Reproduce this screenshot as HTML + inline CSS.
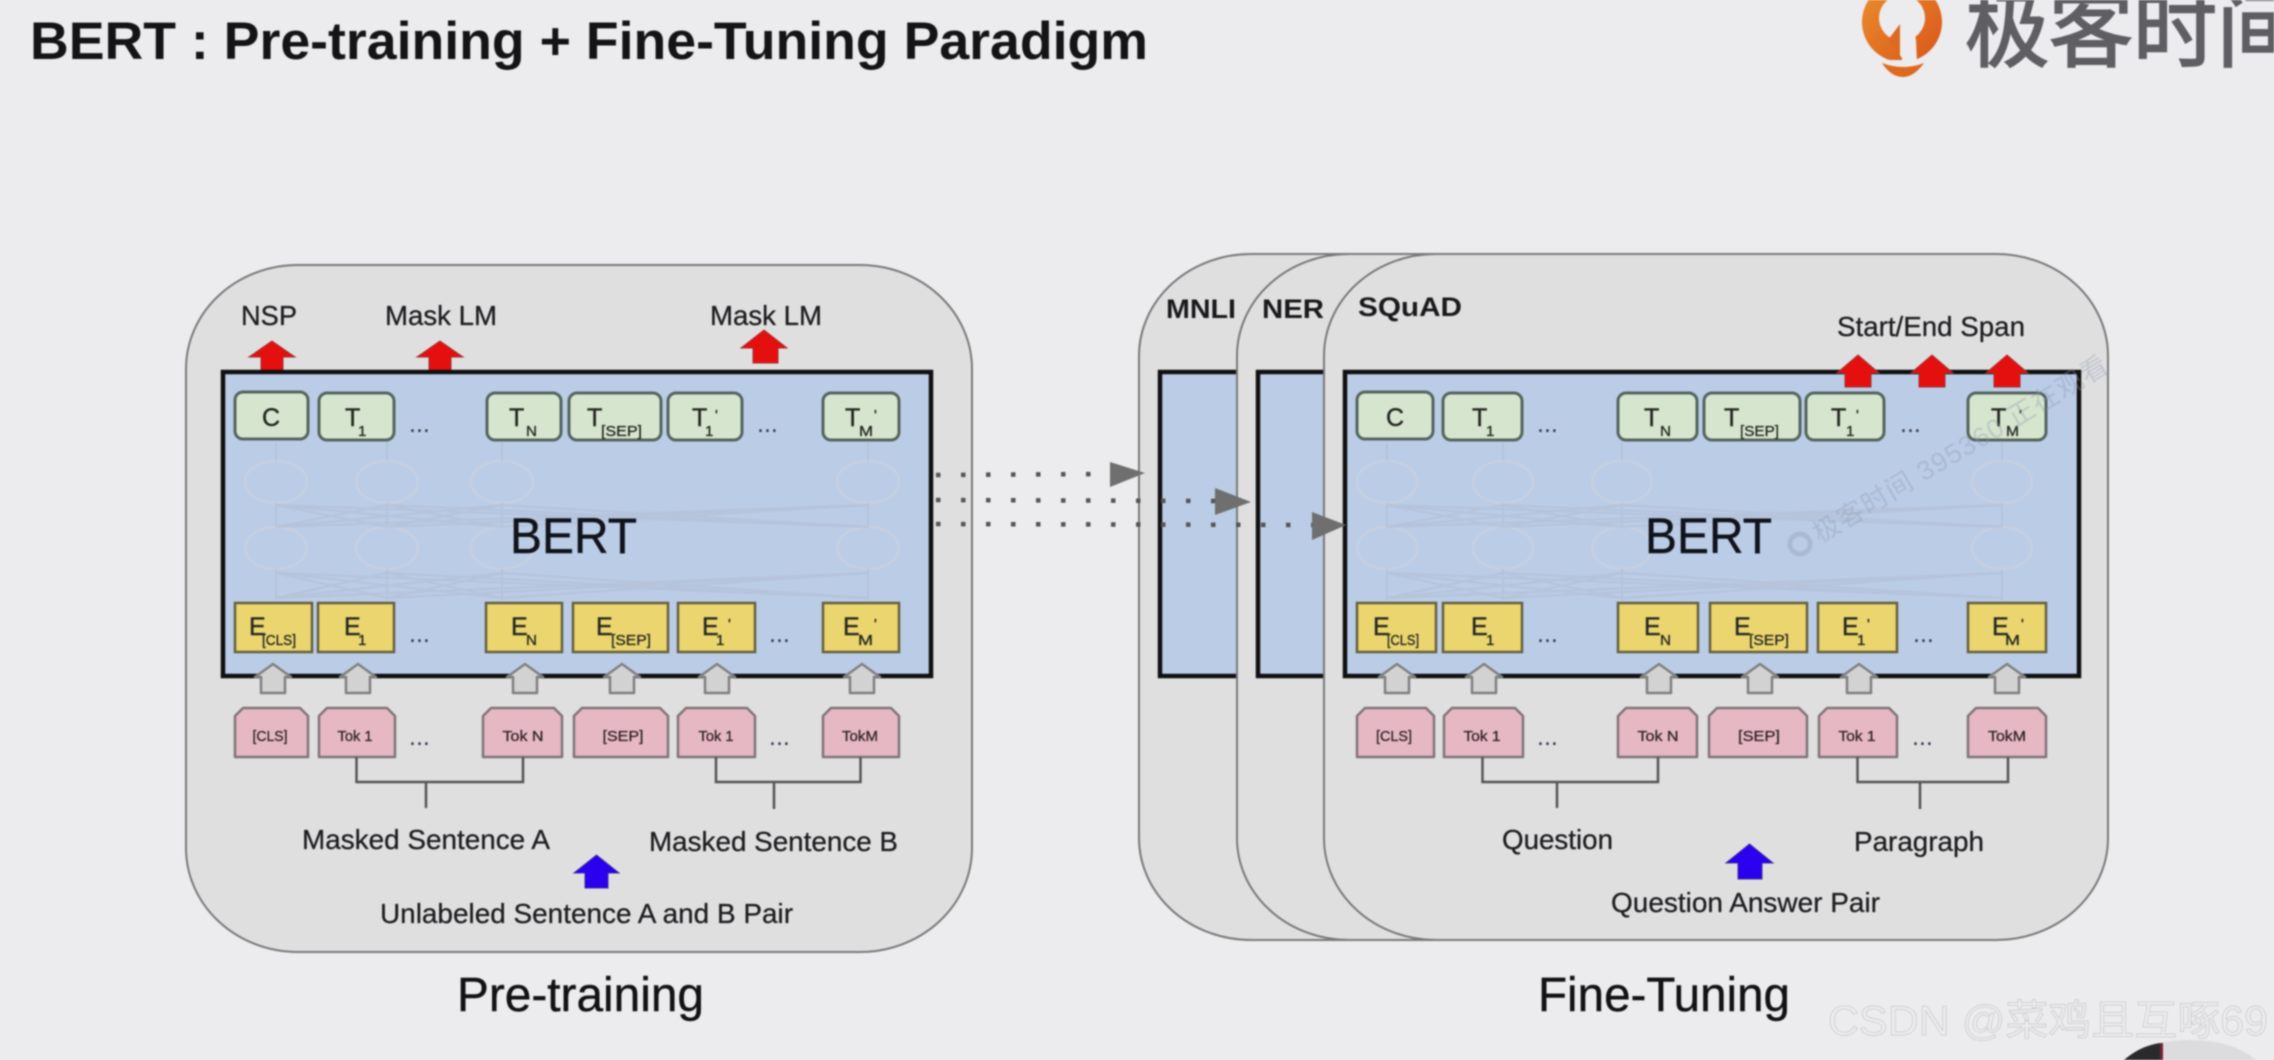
<!DOCTYPE html>
<html><head><meta charset="utf-8">
<style>
html,body{margin:0;padding:0;background:#ecebed;width:2274px;height:1060px;overflow:hidden}
svg{display:block;overflow:hidden;filter:blur(.7px)}
text{font-family:"Liberation Sans","Noto Sans CJK SC",sans-serif;fill:#1c1c1f}
.l{font-size:27.5px;fill:#1e1e20;stroke:#1e1e20;stroke-width:.3px}
.b{font-size:27px;font-weight:700;fill:#1a1a1c}
.h{font-size:48px;fill:#121214;stroke:#121214;stroke-width:.4px}
.bert{font-size:50px;fill:#10131b;stroke:#10131b;stroke-width:.4px}
.m{font-size:25px;fill:#23271f;stroke:#23271f;stroke-width:.4px}
.s{font-size:15px;fill:#23271f;stroke:#23271f;stroke-width:.3px}
.t{font-size:15px;fill:#332428;stroke:#332428;stroke-width:.3px;text-anchor:middle}
.d{font-size:25px;fill:#333a4a}
.gr{fill:#d6e5ce;stroke:#55655e;stroke-width:3}
.ye{fill:#ebd56f;stroke:#64603e;stroke-width:2.500}
.pk{fill:#e6b8c3;stroke:#80747a;stroke-width:2.500;stroke-linejoin:round}
.outer{fill:#e0dfe0;stroke:#7a7a7a;stroke-width:2}
.blue{fill:#bbcce6;stroke:#111;stroke-width:4.500}
.ghost{fill:none;stroke:#c6cfe0;stroke-width:2.500}
.ghl{fill:none;stroke:#b2bfd6;stroke-width:2}
.conn{fill:none;stroke:#555;stroke-width:2.500}
.dot{stroke:#555;stroke-width:4.500;stroke-dasharray:4.500 20.500}
</style></head><body>
<svg width="2274" height="1060" viewBox="0 0 2274 1060" xmlns="http://www.w3.org/2000/svg">
<defs>
<polygon id="g" points="0,664 18,677 12,677 12,693 -12,693 -12,677 -18,677" fill="#d2d2d2" stroke="#808080" stroke-width="2.500" stroke-linejoin="round"/>
<polygon id="rr" points="0,355 21,373 13,373 13,387 -13,387 -13,373 -21,373" fill="#e3100f" stroke="#a5302f" stroke-width="1"/>
<linearGradient id="og" x1="0" y1="0" x2="1" y2="1"><stop offset="0" stop-color="#ea8f2e"/><stop offset="1" stop-color="#d9561a"/></linearGradient>
<clipPath id="pinclip"><rect x="1850" y="0" width="110" height="60"/></clipPath>
</defs>

<rect width="2274" height="1060" fill="#ecebed"/>

<!-- title and logo -->
<text x="30" y="59" font-size="53" font-weight="700" textLength="1118" lengthAdjust="spacingAndGlyphs" style="fill:#141416">BERT : Pre-training + Fine-Tuning Paradigm</text>
<circle cx="1902" cy="22" r="40" fill="url(#og)" clip-path="url(#pinclip)"/>
<circle cx="1902" cy="18" r="23" fill="#ecebed"/>
<polygon points="1902,18 1889,41 1902,58 1902,62 1917,62 1916,40 1912,20" fill="#ecebed"/>
<polygon points="1900,24 1888,40 1900,56" fill="#dd6a1f"/>
<path d="M1882,63 Q1903,71 1924,63 Q1914,77 1903,77 Q1891,77 1882,63Z" fill="#de6a1f"/>
<text x="1965" y="60" font-size="84" stroke="#5f5e62" stroke-width="2" style="fill:#5f5e62">极客时间</text>

<!-- LEFT PANEL -->
<rect class="outer" x="186" y="265" width="786" height="687" rx="112" ry="104"/>
<text class="l" x="241" y="325" textLength="56" lengthAdjust="spacingAndGlyphs">NSP</text>
<text class="l" x="385" y="325" textLength="112" lengthAdjust="spacingAndGlyphs">Mask LM</text>
<text class="l" x="710" y="325" textLength="112" lengthAdjust="spacingAndGlyphs">Mask LM</text>
<polygon points="272,341 295,357 283,357 283,375 261,375 261,357 249,357" fill="#e3100f" stroke="#a5302f"/>
<polygon points="440,341 463,357 451,357 451,375 429,375 429,357 417,357" fill="#e3100f" stroke="#a5302f"/>
<polygon points="764,330 787,348 778,348 778,363 753,363 753,348 741,348" fill="#e3100f" stroke="#a5302f"/>
<rect class="blue" x="223" y="372" width="708" height="304"/>

<g class="ghost">
<ellipse cx="276" cy="482" rx="31" ry="21"/><ellipse cx="387" cy="482" rx="31" ry="21"/><ellipse cx="502" cy="482" rx="31" ry="21"/><ellipse cx="868" cy="482" rx="31" ry="21"/>
<ellipse cx="276" cy="548" rx="31" ry="21"/><ellipse cx="387" cy="548" rx="31" ry="21"/><ellipse cx="502" cy="548" rx="31" ry="21"/><ellipse cx="868" cy="548" rx="31" ry="21"/>
</g>
<path class="ghl" opacity=".65" d="M276,442V461M387,442V461M502,442V461M868,442V461M276,503V527M387,503V527M502,503V527M868,503V527M276,569V600M387,569V600M502,569V600M868,569V600
M276,505L387,527M276,505L502,527M276,505L868,527M387,505L276,527M387,505L502,527M387,505L868,527M502,505L276,527M502,505L387,527M502,505L868,527M868,505L276,527M868,505L387,527M868,505L502,527
M276,573L387,598M276,573L502,598M276,573L868,598M387,573L276,598M387,573L502,598M387,573L868,598M502,573L276,598M502,573L387,598M502,573L868,598M868,573L276,598M868,573L387,598M868,573L502,598"/>

<text class="bert" x="510" y="553" textLength="127" lengthAdjust="spacingAndGlyphs">BERT</text>

<!-- left green -->
<rect class="gr" x="235" y="392" width="73" height="47" rx="8"/>
<rect class="gr" x="319" y="393" width="75" height="47" rx="8"/>
<rect class="gr" x="487" y="393" width="74" height="47" rx="8"/>
<rect class="gr" x="569" y="393" width="92" height="47" rx="8"/>
<rect class="gr" x="668" y="393" width="74" height="47" rx="8"/>
<rect class="gr" x="823" y="393" width="76" height="47" rx="8"/>
<text class="m" x="271" y="426" text-anchor="middle">C</text>
<text class="m" x="345" y="426">T</text><text class="s" x="358" y="436">1</text>
<text class="d" x="409" y="432">...</text>
<text class="m" x="509" y="426">T</text><text class="s" x="526" y="436" textLength="11" lengthAdjust="spacingAndGlyphs">N</text>
<text class="m" x="587" y="426">T</text><text class="s" x="601" y="436" textLength="41" lengthAdjust="spacingAndGlyphs">[SEP]</text>
<text class="m" x="692" y="426">T</text><text class="s" x="705" y="436">1</text><text class="s" x="715" y="420">'</text>
<text class="d" x="757" y="432">...</text>
<text class="m" x="845" y="426">T</text><text class="s" x="859" y="436" textLength="14" lengthAdjust="spacingAndGlyphs">M</text><text class="s" x="874" y="420">'</text>

<!-- left yellow -->
<rect class="ye" x="235" y="603" width="77" height="49"/>
<rect class="ye" x="318" y="603" width="76" height="49"/>
<rect class="ye" x="486" y="603" width="76" height="49"/>
<rect class="ye" x="573" y="603" width="95" height="49"/>
<rect class="ye" x="678" y="603" width="77" height="49"/>
<rect class="ye" x="823" y="603" width="76" height="49"/>
<text class="m" x="249" y="635">E</text><text class="s" x="262" y="645" textLength="34" lengthAdjust="spacingAndGlyphs">[CLS]</text>
<text class="m" x="344" y="635">E</text><text class="s" x="358" y="645">1</text>
<text class="d" x="409" y="642">...</text>
<text class="m" x="511" y="635">E</text><text class="s" x="526" y="645" textLength="11" lengthAdjust="spacingAndGlyphs">N</text>
<text class="m" x="596" y="635">E</text><text class="s" x="611" y="645" textLength="40" lengthAdjust="spacingAndGlyphs">[SEP]</text>
<text class="m" x="702" y="635">E</text><text class="s" x="716" y="645">1</text><text class="s" x="728" y="629">'</text>
<text class="d" x="769" y="642">...</text>
<text class="m" x="843" y="635">E</text><text class="s" x="858" y="645" textLength="15" lengthAdjust="spacingAndGlyphs">M</text><text class="s" x="874" y="629">'</text>

<use href="#g" x="273"/><use href="#g" x="358"/><use href="#g" x="525"/><use href="#g" x="622"/><use href="#g" x="717"/><use href="#g" x="862"/>

<!-- left pink -->
<polygon class="pk" points="235,757 235,716 243,708 300,708 308,716 308,757"/>
<polygon class="pk" points="319,757 319,716 327,708 387,708 395,716 395,757"/>
<polygon class="pk" points="483,757 483,716 491,708 554,708 562,716 562,757"/>
<polygon class="pk" points="574,757 574,716 582,708 660,708 668,716 668,757"/>
<polygon class="pk" points="678,757 678,716 686,708 747,708 755,716 755,757"/>
<polygon class="pk" points="823,757 823,716 831,708 891,708 899,716 899,757"/>
<text class="t" x="270" y="741" textLength="35" lengthAdjust="spacingAndGlyphs">[CLS]</text>
<text class="t" x="355" y="741" textLength="35" lengthAdjust="spacingAndGlyphs">Tok 1</text>
<text class="d" x="409" y="745">...</text>
<text class="t" x="523" y="741" textLength="41" lengthAdjust="spacingAndGlyphs">Tok N</text>
<text class="t" x="623" y="741" textLength="41" lengthAdjust="spacingAndGlyphs">[SEP]</text>
<text class="t" x="716" y="741" textLength="35" lengthAdjust="spacingAndGlyphs">Tok 1</text>
<text class="d" x="769" y="745">...</text>
<text class="t" x="860" y="741" textLength="36" lengthAdjust="spacingAndGlyphs">TokM</text>

<path class="conn" d="M356.500,757V782H523V757M426,782V808M716,757V782H860.500V757M774,782V809"/>
<text class="l" x="302" y="849" textLength="248" lengthAdjust="spacingAndGlyphs">Masked Sentence A</text>
<text class="l" x="649" y="851" textLength="249" lengthAdjust="spacingAndGlyphs">Masked Sentence B</text>
<polygon points="596.500,855 619,873 608,873 608,888 585,888 585,873 574,873" fill="#2a00ee" stroke="#3b2ea0"/>
<text class="l" x="380" y="923" textLength="413" lengthAdjust="spacingAndGlyphs">Unlabeled Sentence A and B Pair</text>
<text class="h" x="457" y="1011" textLength="247" lengthAdjust="spacingAndGlyphs">Pre-training</text>

<!-- RIGHT PANEL -->
<rect class="outer" x="1139" y="254" width="500" height="686" rx="112" ry="102"/>
<rect class="blue" x="1160" y="372" width="400" height="304"/>
<text class="b" x="1166" y="318" textLength="70" lengthAdjust="spacingAndGlyphs">MNLI</text>

<rect class="outer" x="1237" y="254" width="600" height="686" rx="112" ry="102"/>
<rect class="blue" x="1258" y="372" width="400" height="304"/>
<text class="b" x="1262" y="318" textLength="62" lengthAdjust="spacingAndGlyphs">NER</text>

<rect class="outer" x="1324" y="254" width="784" height="686" rx="112" ry="102"/>
<rect class="blue" x="1345" y="372" width="734" height="304"/>
<text class="b" x="1358" y="316" textLength="104" lengthAdjust="spacingAndGlyphs">SQuAD</text>
<text class="l" x="1837" y="336" textLength="188" lengthAdjust="spacingAndGlyphs">Start/End Span</text>

<g class="ghost">
<ellipse cx="1387" cy="482" rx="30" ry="21"/><ellipse cx="1503" cy="482" rx="30" ry="21"/><ellipse cx="1622" cy="482" rx="30" ry="21"/><ellipse cx="2002" cy="482" rx="30" ry="21"/>
<ellipse cx="1387" cy="548" rx="30" ry="21"/><ellipse cx="1503" cy="548" rx="30" ry="21"/><ellipse cx="1622" cy="548" rx="30" ry="21"/><ellipse cx="2002" cy="548" rx="30" ry="21"/>
</g>
<path class="ghl" opacity=".65" d="M1387,442V461M1503,442V461M1622,442V461M2002,442V461M1387,503V527M1503,503V527M1622,503V527M2002,503V527M1387,569V600M1503,569V600M1622,569V600M2002,569V600
M1387,505L1503,527M1387,505L1622,527M1387,505L2002,527M1503,505L1387,527M1503,505L1622,527M1503,505L2002,527M1622,505L1387,527M1622,505L1503,527M1622,505L2002,527M2002,505L1387,527M2002,505L1503,527M2002,505L1622,527
M1387,573L1503,598M1387,573L1622,598M1387,573L2002,598M1503,573L1387,598M1503,573L1622,598M1503,573L2002,598M1622,573L1387,598M1622,573L1503,598M1622,573L2002,598M2002,573L1387,598M2002,573L1503,598M2002,573L1622,598"/>

<text class="bert" x="1645" y="553" textLength="127" lengthAdjust="spacingAndGlyphs">BERT</text>

<!-- right green -->
<rect class="gr" x="1357" y="392" width="76" height="47" rx="8"/>
<rect class="gr" x="1443" y="393" width="79" height="47" rx="8"/>
<rect class="gr" x="1618" y="393" width="79" height="47" rx="8"/>
<rect class="gr" x="1704" y="393" width="96" height="47" rx="8"/>
<rect class="gr" x="1806" y="393" width="78" height="47" rx="8"/>
<rect class="gr" x="1968" y="393" width="78" height="47" rx="8"/>
<text class="m" x="1395" y="426" text-anchor="middle">C</text>
<text class="m" x="1472" y="426">T</text><text class="s" x="1486" y="436">1</text>
<text class="d" x="1537" y="432">...</text>
<text class="m" x="1644" y="426">T</text><text class="s" x="1660" y="436" textLength="11" lengthAdjust="spacingAndGlyphs">N</text>
<text class="m" x="1724" y="426">T</text><text class="s" x="1740" y="436" textLength="39" lengthAdjust="spacingAndGlyphs">[SEP]</text>
<text class="m" x="1831" y="426">T</text><text class="s" x="1846" y="436">1</text><text class="s" x="1856" y="420">'</text>
<text class="d" x="1900" y="432">...</text>
<text class="m" x="1991" y="426">T</text><text class="s" x="2006" y="436" textLength="13" lengthAdjust="spacingAndGlyphs">M</text><text class="s" x="2019" y="420">'</text>

<!-- right yellow -->
<rect class="ye" x="1357" y="603" width="79" height="49"/>
<rect class="ye" x="1443" y="603" width="79" height="49"/>
<rect class="ye" x="1618" y="603" width="80" height="49"/>
<rect class="ye" x="1710" y="603" width="97" height="49"/>
<rect class="ye" x="1818" y="603" width="79" height="49"/>
<rect class="ye" x="1968" y="603" width="78" height="49"/>
<text class="m" x="1373" y="635">E</text><text class="s" x="1387" y="645" textLength="32" lengthAdjust="spacingAndGlyphs">[CLS]</text>
<text class="m" x="1471" y="635">E</text><text class="s" x="1486" y="645">1</text>
<text class="d" x="1537" y="642">...</text>
<text class="m" x="1644" y="635">E</text><text class="s" x="1660" y="645" textLength="11" lengthAdjust="spacingAndGlyphs">N</text>
<text class="m" x="1734" y="635">E</text><text class="s" x="1749" y="645" textLength="40" lengthAdjust="spacingAndGlyphs">[SEP]</text>
<text class="m" x="1842" y="635">E</text><text class="s" x="1857" y="645">1</text><text class="s" x="1867" y="629">'</text>
<text class="d" x="1913" y="642">...</text>
<text class="m" x="1992" y="635">E</text><text class="s" x="2005" y="645" textLength="15" lengthAdjust="spacingAndGlyphs">M</text><text class="s" x="2021" y="629">'</text>

<use href="#rr" x="1858"/><use href="#rr" x="1932"/><use href="#rr" x="2007"/>
<use href="#g" x="1397"/><use href="#g" x="1484"/><use href="#g" x="1659"/><use href="#g" x="1760"/><use href="#g" x="1859"/><use href="#g" x="2007"/>

<!-- right pink -->
<polygon class="pk" points="1357,757 1357,716 1365,708 1426,708 1434,716 1434,757"/>
<polygon class="pk" points="1444,757 1444,716 1452,708 1515,708 1523,716 1523,757"/>
<polygon class="pk" points="1618,757 1618,716 1626,708 1689,708 1697,716 1697,757"/>
<polygon class="pk" points="1709,757 1709,716 1717,708 1799,708 1807,716 1807,757"/>
<polygon class="pk" points="1819,757 1819,716 1827,708 1889,708 1897,716 1897,757"/>
<polygon class="pk" points="1968,757 1968,716 1976,708 2038,708 2046,716 2046,757"/>
<text class="t" x="1394" y="741" textLength="36" lengthAdjust="spacingAndGlyphs">[CLS]</text>
<text class="t" x="1482" y="741" textLength="37" lengthAdjust="spacingAndGlyphs">Tok 1</text>
<text class="d" x="1537" y="745">...</text>
<text class="t" x="1658" y="741" textLength="41" lengthAdjust="spacingAndGlyphs">Tok N</text>
<text class="t" x="1759" y="741" textLength="42" lengthAdjust="spacingAndGlyphs">[SEP]</text>
<text class="t" x="1857" y="741" textLength="37" lengthAdjust="spacingAndGlyphs">Tok 1</text>
<text class="d" x="1912" y="745">...</text>
<text class="t" x="2007" y="741" textLength="38" lengthAdjust="spacingAndGlyphs">TokM</text>

<path class="conn" d="M1482.500,757V782H1658V757M1557,782V808M1857.500,757V782H2008V757M1920,782V809"/>
<text class="l" x="1502" y="849" textLength="111" lengthAdjust="spacingAndGlyphs">Question</text>
<text class="l" x="1854" y="851" textLength="130" lengthAdjust="spacingAndGlyphs">Paragraph</text>
<polygon points="1749.500,844 1773,863 1762,863 1762,879 1738,879 1738,863 1726,863" fill="#2a00ee" stroke="#3b2ea0"/>
<text class="l" x="1611" y="912" textLength="269" lengthAdjust="spacingAndGlyphs">Question Answer Pair</text>
<text class="h" x="1538" y="1011" textLength="252" lengthAdjust="spacingAndGlyphs">Fine-Tuning</text>

<!-- dotted transfers -->
<line class="dot" x1="936" y1="475" x2="1110" y2="474"/>
<line class="dot" x1="936" y1="500" x2="1215" y2="501"/>
<line class="dot" x1="936" y1="524" x2="1312" y2="525"/>
<polygon points="1110,462 1145,473 1110,487" fill="#6f6f6f"/>
<polygon points="1215,488 1251,502 1215,515" fill="#6f6f6f"/>
<polygon points="1312,512 1346,525 1312,540" fill="#6f6f6f"/>

<!-- video watermark -->
<g transform="translate(1800,544) rotate(-30.800)" opacity=".35">
<circle cx="0" cy="0" r="10" fill="none" stroke="#8d9ab0" stroke-width="5"/>
<text x="17" y="10" font-size="27" textLength="338" lengthAdjust="spacing" style="fill:#8d9ab0">极客时间 395360 正在观看</text>
</g>

<!-- CSDN watermark -->
<text x="1828" y="1035" font-size="42" textLength="440" lengthAdjust="spacingAndGlyphs" stroke="#c8c8ca" stroke-width=".7" style="fill:#ecebed">CSDN @菜鸡且互啄69</text>

<!-- corner disc -->
<path d="M2124,1060 Q2150,1040 2190,1040 Q2232,1040 2256,1060Z" fill="#dcdbdd"/>
<path d="M2124,1060 Q2140,1046 2160,1043 L2160,1060Z" fill="#2a2a2c"/>
<rect x="2160" y="1043" width="3" height="17" fill="#7a2036"/>
</svg>
</body></html>
